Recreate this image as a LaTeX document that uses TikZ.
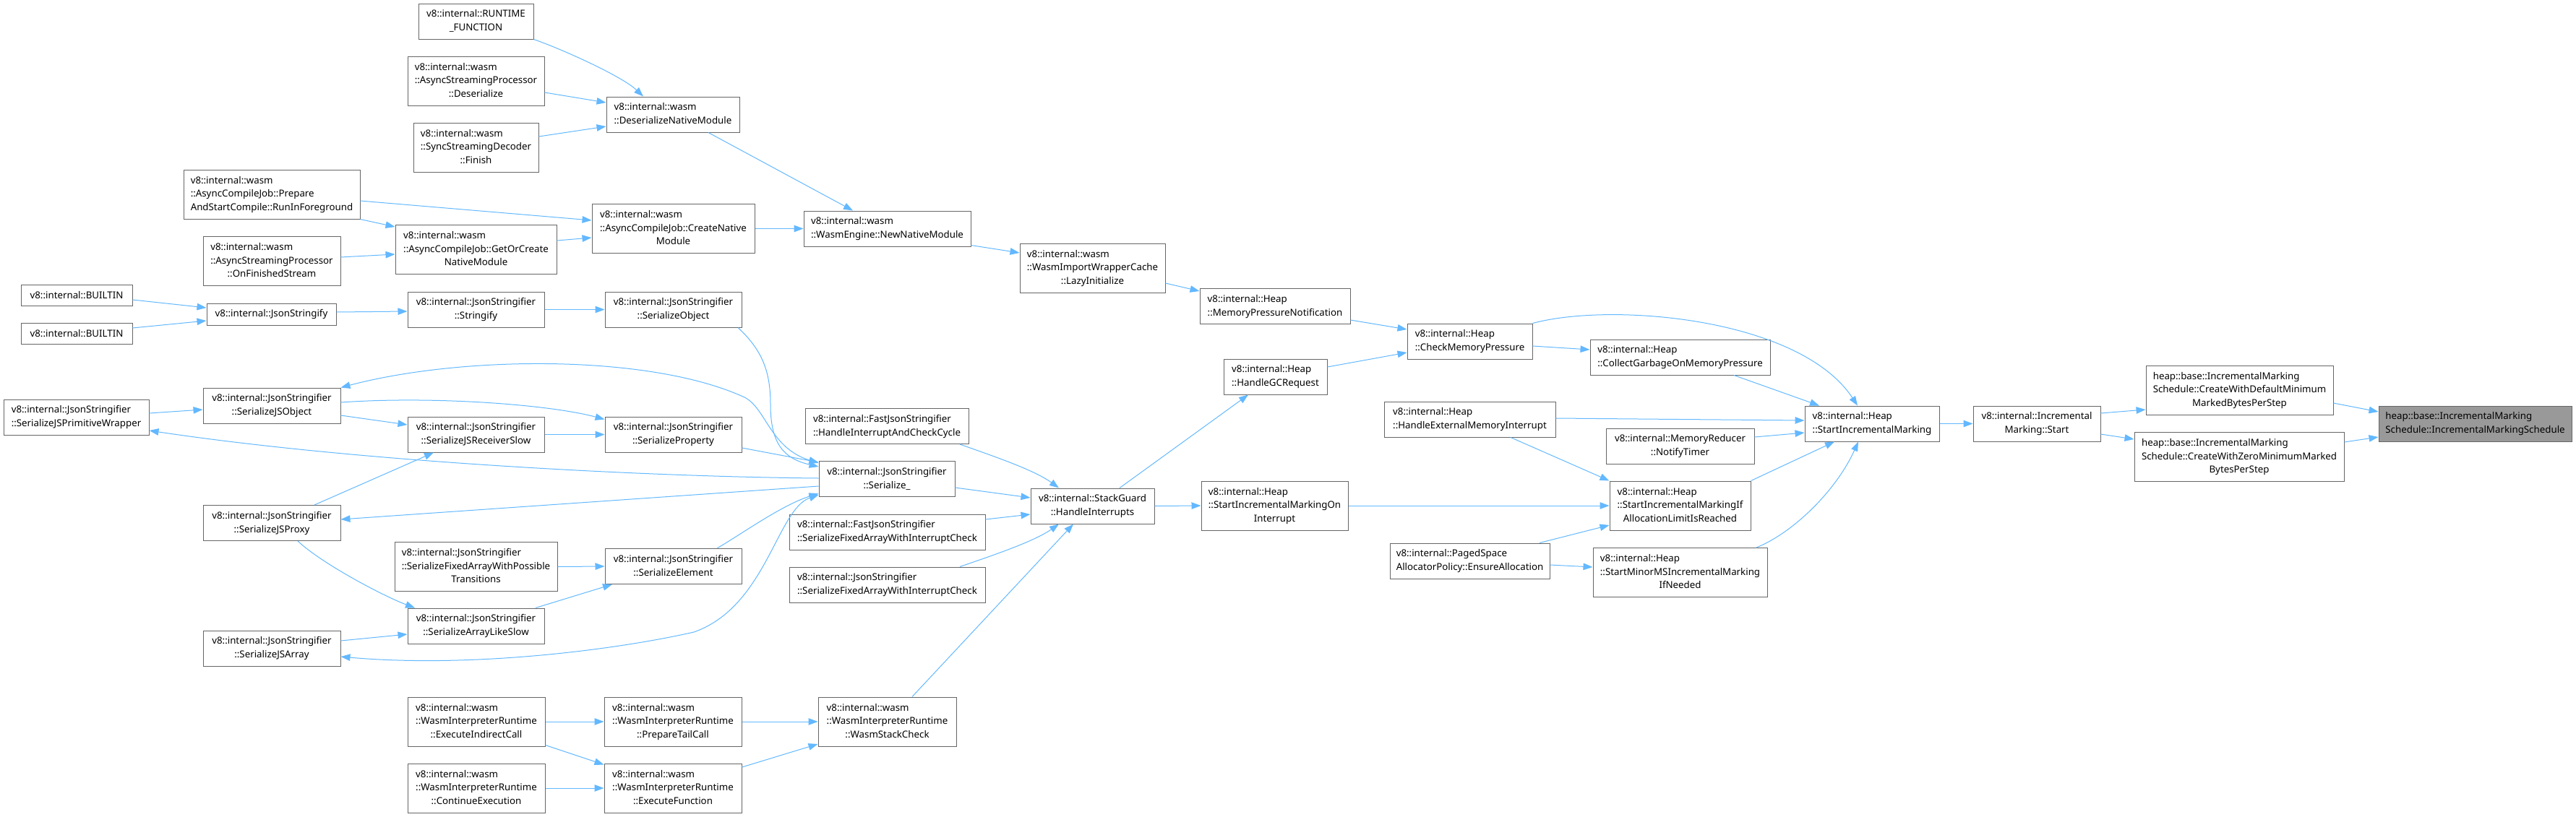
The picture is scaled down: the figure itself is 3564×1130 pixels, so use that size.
\documentclass[tikz,border=0pt]{standalone}
\usepackage{fontspec}
\setmainfont{Noto Sans}
\usetikzlibrary{arrows.meta,calc}
\definecolor{edgec}{HTML}{63B8FF}
\definecolor{bordc}{HTML}{666666}
\definecolor{hilite}{HTML}{999999}
\newcommand{\dxTwo}[2]{\begin{tabular}{@{}l@{}}#1\\\multicolumn{1}{@{}c@{}}{#2}\end{tabular}}
\newcommand{\dxThree}[3]{\begin{tabular}{@{}l@{}}#1\\#2\\\multicolumn{1}{@{}c@{}}{#3}\end{tabular}}
\begin{document}
\begin{tikzpicture}[x=1pt,y=-1pt,
  dxbox/.style={draw=bordc, line width=1pt, fill=white, inner sep=0pt, font=\fontsize{13.3}{18.7}\selectfont},
  edg/.style={draw=edgec, line width=1pt, -{Triangle[length=13pt,width=9.5pt]}},
  edgb/.style={draw=edgec, line width=1pt, {Triangle[length=13pt,width=9.5pt]}-{Triangle[length=13pt,width=9.5pt]}},
  edgs/.style={draw=edgec, line width=1pt, {Triangle[length=13pt,width=9.5pt]}-}]
\useasboundingbox (0,0) rectangle (3564,1130);
% nodes
\node[dxbox, minimum width=159pt, minimum height=49pt] (RT) at (658.5,29.5) {\dxTwo{v8::internal::RUNTIME}{\_FUNCTION}};
\node[dxbox, minimum width=189pt, minimum height=68pt] (ASPD) at (658.5,112) {\dxThree{v8::internal::wasm}{::AsyncStreamingProcessor}{::Deserialize}};
\node[dxbox, minimum width=173pt, minimum height=68pt] (SSDF) at (658.5,204) {\dxThree{v8::internal::wasm}{::SyncStreamingDecoder}{::Finish}};
\node[dxbox, minimum width=184pt, minimum height=49pt] (DNM) at (931,158.5) {\dxTwo{v8::internal::wasm}{::DeserializeNativeModule}};
\node[dxbox, minimum width=244pt, minimum height=68pt] (PASC) at (376,269) {\dxThree{v8::internal::wasm}{::AsyncCompileJob::Prepare}{AndStartCompile::RunInForeground}};
\node[dxbox, minimum width=223pt, minimum height=68pt] (GOC) at (658.5,345.5) {\dxThree{v8::internal::wasm}{::AsyncCompileJob::GetOrCreate}{NativeModule}};
\node[dxbox, minimum width=190pt, minimum height=68pt] (OFS) at (376,361.5) {\dxThree{v8::internal::wasm}{::AsyncStreamingProcessor}{::OnFinishedStream}};
\node[dxbox, minimum width=225pt, minimum height=68pt] (CNM) at (931.5,316.5) {\dxThree{v8::internal::wasm}{::AsyncCompileJob::CreateNative}{Module}};
\node[dxbox, minimum width=154pt, minimum height=29pt] (B1) at (106,408.5) {v8::internal::BUILTIN};
\node[dxbox, minimum width=154pt, minimum height=29pt] (B2) at (106,461.5) {v8::internal::BUILTIN};
\node[dxbox, minimum width=179pt, minimum height=30pt] (JS) at (375.5,435) {v8::internal::JsonStringify};
\node[dxbox, minimum width=189pt, minimum height=49pt] (STR) at (658.5,428.5) {\dxTwo{v8::internal::JsonStringifier}{::Stringify}};
\node[dxbox, minimum width=189pt, minimum height=49pt] (SO) at (931.5,428.5) {\dxTwo{v8::internal::JsonStringifier}{::SerializeObject}};
\node[dxbox, minimum width=190pt, minimum height=49pt] (SJO) at (376,561.5) {\dxTwo{v8::internal::JsonStringifier}{::SerializeJSObject}};
\node[dxbox, minimum width=201pt, minimum height=49pt] (SJPW) at (105.5,577.5) {\dxTwo{v8::internal::JsonStringifier}{::SerializeJSPrimitiveWrapper}};
\node[dxbox, minimum width=231pt, minimum height=49pt] (NNM) at (1227.5,316.5) {\dxTwo{v8::internal::wasm}{::WasmEngine::NewNativeModule}};
\node[dxbox, minimum width=201pt, minimum height=68pt] (LAZY) at (1511.5,371) {\dxThree{v8::internal::wasm}{::WasmImportWrapperCache}{::LazyInitialize}};
\node[dxbox, minimum width=208pt, minimum height=49pt] (MPN) at (1764,424) {\dxTwo{v8::internal::Heap}{::MemoryPressureNotification}};
\node[dxbox, minimum width=143pt, minimum height=49pt] (HGC) at (1764.5,521.5) {\dxTwo{v8::internal::Heap}{::HandleGCRequest}};
\node[dxbox, minimum width=173pt, minimum height=49pt] (CMP) at (2033.5,472.5) {\dxTwo{v8::internal::Heap}{::CheckMemoryPressure}};
\node[dxbox, minimum width=249pt, minimum height=49pt] (CGMP) at (2324.5,494.5) {\dxTwo{v8::internal::Heap}{::CollectGarbageOnMemoryPressure}};
\node[dxbox, minimum width=186pt, minimum height=49pt] (SIM) at (2590,586.5) {\dxTwo{v8::internal::Heap}{::StartIncrementalMarking}};
\node[dxbox, minimum width=176pt, minimum height=49pt] (IMST) at (2818,586.5) {\dxTwo{v8::internal::Incremental}{Marking::Start}};
\node[dxbox, minimum width=259pt, minimum height=68pt] (CWD) at (3098.5,540) {\dxThree{heap::base::IncrementalMarking}{Schedule::CreateWithDefaultMinimum}{MarkedBytesPerStep}};
\node[dxbox, minimum width=290pt, minimum height=68pt] (CWZ) at (3098,632.5) {\dxThree{heap::base::IncrementalMarking}{Schedule::CreateWithZeroMinimumMarked}{BytesPerStep}};
\node[dxbox, fill=hilite, minimum width=267pt, minimum height=49pt] (IMS) at (3424.5,586.5) {\dxTwo{heap::base::IncrementalMarking}{Schedule::IncrementalMarkingSchedule}};
\node[dxbox, minimum width=189pt, minimum height=49pt] (SJRS) at (658.5,601.5) {\dxTwo{v8::internal::JsonStringifier}{::SerializeJSReceiverSlow}};
\node[dxbox, minimum width=189pt, minimum height=49pt] (SP) at (931.5,601.5) {\dxTwo{v8::internal::JsonStringifier}{::SerializeProperty}};
\node[dxbox, minimum width=190pt, minimum height=49pt] (SJP) at (376,724) {\dxTwo{v8::internal::JsonStringifier}{::SerializeJSProxy}};
\node[dxbox, minimum width=225pt, minimum height=68pt] (SFA) at (658.5,784.5) {\dxThree{v8::internal::JsonStringifier}{::SerializeFixedArrayWithPossible}{Transitions}};
\node[dxbox, minimum width=189pt, minimum height=49pt] (SE) at (931.5,784) {\dxTwo{v8::internal::JsonStringifier}{::SerializeElement}};
\node[dxbox, minimum width=189pt, minimum height=49pt] (SALS) at (658.5,866.5) {\dxTwo{v8::internal::JsonStringifier}{::SerializeArrayLikeSlow}};
\node[dxbox, minimum width=190pt, minimum height=49pt] (SJA) at (376,897.5) {\dxTwo{v8::internal::JsonStringifier}{::SerializeJSArray}};
\node[dxbox, minimum width=190pt, minimum height=68pt] (EIC) at (659,999) {\dxThree{v8::internal::wasm}{::WasmInterpreterRuntime}{::ExecuteIndirectCall}};
\node[dxbox, minimum width=190pt, minimum height=68pt] (CE) at (659,1091) {\dxThree{v8::internal::wasm}{::WasmInterpreterRuntime}{::ContinueExecution}};
\node[dxbox, minimum width=190pt, minimum height=68pt] (PTC) at (931,999) {\dxThree{v8::internal::wasm}{::WasmInterpreterRuntime}{::PrepareTailCall}};
\node[dxbox, minimum width=190pt, minimum height=68pt] (EF) at (931,1091) {\dxThree{v8::internal::wasm}{::WasmInterpreterRuntime}{::ExecuteFunction}};
\node[dxbox, minimum width=226pt, minimum height=49pt] (FHIC) at (1227,590) {\dxTwo{v8::internal::FastJsonStringifier}{::HandleInterruptAndCheckCycle}};
\node[dxbox, minimum width=188pt, minimum height=49pt] (SER) at (1227,663) {\dxTwo{v8::internal::JsonStringifier}{::Serialize\_}};
\node[dxbox, minimum width=171pt, minimum height=49pt] (HI) at (1511.5,700.5) {\dxTwo{v8::internal::StackGuard}{::HandleInterrupts}};
\node[dxbox, minimum width=271pt, minimum height=49pt] (FSFA) at (1227.5,736.5) {\dxTwo{v8::internal::FastJsonStringifier}{::SerializeFixedArrayWithInterruptCheck}};
\node[dxbox, minimum width=271pt, minimum height=49pt] (JSFA) at (1227.5,809.5) {\dxTwo{v8::internal::JsonStringifier}{::SerializeFixedArrayWithInterruptCheck}};
\node[dxbox, minimum width=191pt, minimum height=68pt] (WSC) at (1227.5,999) {\dxThree{v8::internal::wasm}{::WasmInterpreterRuntime}{::WasmStackCheck}};
\node[dxbox, minimum width=203pt, minimum height=68pt] (SIMOI) at (1763.5,700) {\dxThree{v8::internal::Heap}{::StartIncrementalMarkingOn}{Interrupt}};
\node[dxbox, minimum width=237pt, minimum height=49pt] (HEMI) at (2033.5,580.5) {\dxTwo{v8::internal::Heap}{::HandleExternalMemoryInterrupt}};
\node[dxbox, minimum width=205pt, minimum height=49pt] (NT) at (2324.5,617.5) {\dxTwo{v8::internal::MemoryReducer}{::NotifyTimer}};
\node[dxbox, minimum width=195pt, minimum height=68pt] (SIMIF) at (2324.5,700) {\dxThree{v8::internal::Heap}{::StartIncrementalMarkingIf}{AllocationLimitIsReached}};
\node[dxbox, minimum width=221pt, minimum height=49pt] (EA) at (2033.5,776.5) {\dxTwo{v8::internal::PagedSpace}{AllocatorPolicy::EnsureAllocation}};
\node[dxbox, minimum width=241pt, minimum height=68pt] (SMMS) at (2324.5,792.5) {\dxThree{v8::internal::Heap}{::StartMinorMSIncrementalMarking}{IfNeeded}};
% edges
\draw[edg] (RT.south east) .. controls (775,67) and (860,105) .. ($(DNM.north)+(-41,0)$);
\draw[edg] ($(ASPD.east)+(0,16)$) -- ($(DNM.west)+(0,-16.5)$);
\draw[edg] ($(SSDF.east)+(0,-15)$) -- ($(DNM.west)+(0,16.5)$);
\draw[edg] ($(DNM.south)+(49,0)$) -- ($(NNM.north)+(-47.5,0)$);
\draw[edg] ($(PASC.east)+(0,9)$) -- ($(CNM.west)+(0,-11.5)$);
\draw[edg] (PASC.south east) -- ($(GOC.north west)+(0,3)$);
\draw[edg] ($(OFS.east)+(0,-5.5)$) -- ($(GOC.west)+(0,6.5)$);
\draw[edg] ($(GOC.east)+(0,-12.5)$) -- ($(CNM.west)+(0,12.5)$);
\draw[edg] (CNM.east) -- (NNM.west);
\draw[edg] ($(NNM.south east)+(0,-2)$) -- ($(LAZY.west)+(0,-21)$);
\draw[edg] ($(LAZY.east)+(0,21)$) -- ($(MPN.west)+(0,-21)$);
\draw[edg] ($(MPN.east)+(0,19)$) -- ($(CMP.west)+(0,-16.5)$);
\draw[edg] ($(HGC.east)+(0,-13.5)$) -- ($(CMP.west)+(0,15.5)$);
\draw[edg] ($(CMP.east)+(0,6.5)$) -- ($(CGMP.west)+(0,-10.5)$);
\draw[edg] (CMP.north east) .. controls (2230,418) and (2490,440) .. ($(SIM.north)+(-20,0)$);
\draw[edg] ($(CGMP.south)+(74.5,0)$) -- ($(SIM.north)+(-73,0)$);
\draw[edg] ($(HEMI.east)+(0,-1.5)$) -- ($(SIM.west)+(0,-4.5)$);
\draw[edg] ($(NT.east)+(0,-12.5)$) -- ($(SIM.west)+(0,12.5)$);
\draw[edg] (SIMIF.north east) -- ($(SIM.south)+(-52,0)$);
\draw[edg] ($(SMMS.north)+(105.5,0)$) .. controls (2480,738) and (2540,680) .. ($(SIM.south)+(-19,0)$);
\draw[edg] ($(HEMI.south)+(56.5,0)$) -- (SIMIF.north west);
\draw[edg] (SIMOI.east) -- (SIMIF.west);
\draw[edg] ($(EA.north)+(96.5,0)$) -- ($(SIMIF.west)+(0,27)$);
\draw[edg] ($(EA.east)+(0,5.5)$) -- ($(SMMS.west)+(0,-7.5)$);
\draw[edg] (SIM.east) -- (IMST.west);
\draw[edg] ($(IMST.east)+(0,-14.5)$) -- ($(CWD.west)+(0,27)$);
\draw[edg] ($(IMST.east)+(0,14.5)$) -- ($(CWZ.west)+(0,-24.5)$);
\draw[edg] ($(CWD.east)+(0,18)$) -- ($(IMS.west)+(0,-16.5)$);
\draw[edg] ($(CWZ.east)+(0,-20.5)$) -- ($(IMS.west)+(0,18.5)$);
\draw[edg] (HI.east) -- (SIMOI.west);
\draw[edg] ($(HI.north)+(37.5,0)$) -- ($(HGC.south)+(-37.5,0)$);
\draw[edg] ($(SER.east)+(0,12)$) -- ($(HI.west)+(0,-11.5)$);
\draw[edg] ($(FHIC.south)+(101,0)$) .. controls (1370,630) and (1430,650) .. ($(HI.north)+(-46.5,0)$);
\draw[edg] ($(FSFA.east)+(0,-17.5)$) -- ($(HI.west)+(0,11.5)$);
\draw[edg] ($(JSFA.north)+(100.5,0)$) .. controls (1370,770) and (1430,750) .. ($(HI.south)+(-46.5,0)$);
\draw[edg] ($(WSC.north)+(34.5,0)$) -- ($(HI.south)+(-26.5,0)$);
\draw[edg] (PTC.east) -- (WSC.west);
\draw[edg] ($(EF.east)+(0,-29)$) -- ($(WSC.west)+(0,31)$);
\draw[edg] (EIC.east) -- (PTC.west);
\draw[edg] ($(EIC.south east)+(0,-2)$) -- ($(EF.north west)+(0,2)$);
\draw[edg] (CE.east) -- (EF.west);
\draw[edg] ($(B1.east)+(0,6.5)$) -- ($(JS.west)+(0,-9)$);
\draw[edg] ($(B2.east)+(0,-7.5)$) -- ($(JS.west)+(0,9)$);
\draw[edg] ($(JS.east)+(0,-3)$) -- ($(STR.west)+(0,2.5)$);
\draw[edg] (STR.east) -- (SO.west);
\draw[edg] ($(SO.south)+(89.5,0)$) .. controls (1055,485) and (1066,515) .. (1066,560) .. controls (1066,615) and (1085,635) .. ($(SER.west)+(0,-17)$);
\draw[edgb] (SJO.north east) .. controls (640,492) and (900,490) .. (1030,550) .. controls (1060,565) and (1065,620) .. ($(SER.west)+(0,-22)$);
\draw[edg] ($(SJO.east)+(0,13.5)$) -- ($(SJRS.west)+(0,-13.5)$);
\draw[edg] ($(SJO.east)+(0,-4.5)$) .. controls (600,548) and (760,560) .. ($(SP.west)+(0,-21)$);
\draw[edg] ($(SJPW.east)+(0,-5.5)$) -- ($(SJO.west)+(0,5.5)$);
\draw[edgs] ($(SJPW.east)+(0,18.5)$) .. controls (500,640) and (900,660) .. ($(SER.west)+(0,-1)$);
\draw[edg] (SJRS.east) -- (SP.west);
\draw[edg] ($(SP.east)+(0,18.5)$) -- ($(SER.west)+(0,-23)$);
\draw[edg] ($(SJP.north)+(59,0)$) -- ($(SJRS.south)+(-58.5,0)$);
\draw[edgs] ($(SJP.east)+(0,-5)$) -- ($(SER.west)+(0,10)$);
\draw[edg] ($(SJP.south)+(36,0)$) .. controls (445,780) and (530,825) .. ($(SALS.north)+(-84.5,0)$);
\draw[edg] (SFA.east) -- (SE.west);
\draw[edg] ($(SALS.north)+(82.5,0)$) -- ($(SE.south)+(-84.5,0)$);
\draw[edg] ($(SE.north)+(60.5,0)$) .. controls (1025,740) and (1080,700) .. ($(SER.west)+(0,20)$);
\draw[edg] ($(SJA.east)+(0,-10.5)$) -- ($(SALS.west)+(0,11.5)$);
\draw[edgb] ($(SJA.east)+(0,11.5)$) .. controls (650,925) and (850,900) .. (960,875) .. controls (1060,840) and (1075,705) .. ($(SER.west)+(0,22)$);
\end{tikzpicture}
\end{document}
